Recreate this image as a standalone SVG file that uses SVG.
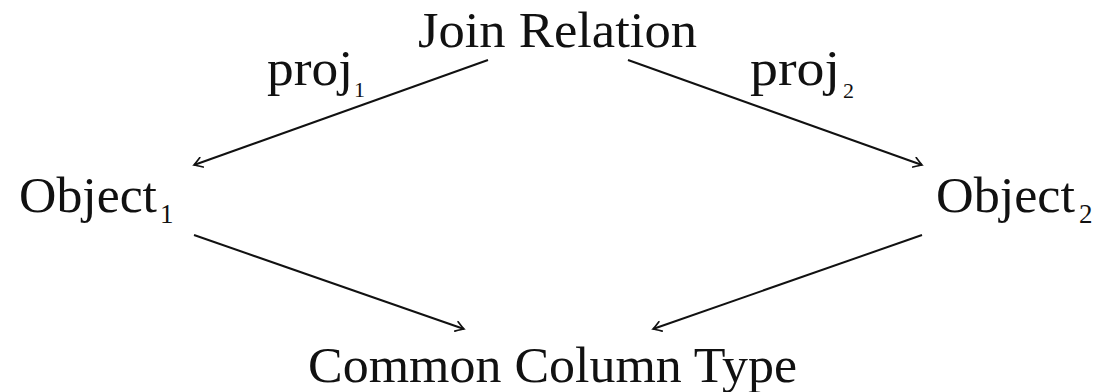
<svg xmlns="http://www.w3.org/2000/svg" width="1100" height="392" viewBox="0 0 1100 392">
<style>
.t{font-family:"Liberation Serif","Times New Roman",serif;font-size:50px;fill:#111}
.s{font-family:"Liberation Serif","Times New Roman",serif;font-size:27px;fill:#111}
.ss{font-family:"Liberation Serif","Times New Roman",serif;font-size:22px;fill:#111}
.e{stroke:#111;stroke-width:2;fill:none}
</style>
<defs>
<marker id="ah" viewBox="-10 -6 12 12" refX="0" refY="0" markerWidth="12" markerHeight="12" markerUnits="userSpaceOnUse" orient="auto">
<path d="M -8 -5 Q -2 -1 0 0 Q -2 1 -8 5" fill="none" stroke="#111" stroke-width="1.7" stroke-linecap="round"/>
</marker>
</defs>
<rect width="1100" height="392" fill="#fff"/>
<g id="connectors">
<line class="e" x1="488" y1="60" x2="194" y2="165" marker-end="url(#ah)"/>
<line class="e" x1="628" y1="60" x2="922" y2="165" marker-end="url(#ah)"/>
<line class="e" x1="194" y1="235" x2="464" y2="329" marker-end="url(#ah)"/>
<line class="e" x1="922" y1="235" x2="653" y2="329" marker-end="url(#ah)"/>
<g id="label-proj1"><text class="t" x="267" y="85" textLength="86" lengthAdjust="spacingAndGlyphs">proj</text><text class="ss" x="354" y="97">1</text></g>
<g id="label-proj2"><text class="t" x="750" y="85" textLength="90" lengthAdjust="spacingAndGlyphs">proj</text><text class="ss" x="843" y="98">2</text></g>
</g>
<g id="join"><text class="t" x="418" y="47" textLength="279" lengthAdjust="spacingAndGlyphs">Join Relation</text></g>
<g id="object1"><text class="t" x="19" y="212" textLength="138" lengthAdjust="spacingAndGlyphs">Object</text><text class="s" x="160" y="223">1</text></g>
<g id="object2"><text class="t" x="936" y="212" textLength="139" lengthAdjust="spacingAndGlyphs">Object</text><text class="s" x="1079" y="223">2</text></g>
<g id="common"><text class="t" x="308" y="382" textLength="489" lengthAdjust="spacingAndGlyphs">Common Column Type</text></g>
</svg>
